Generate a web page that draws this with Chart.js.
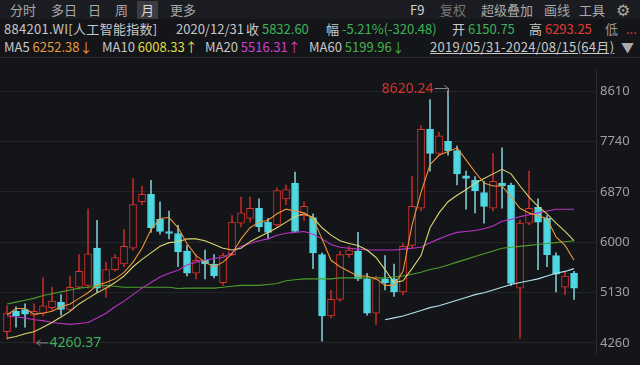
<!DOCTYPE html>
<html>
<head>
<meta charset="utf-8">
<script src="https://cdn.jsdelivr.net/npm/chart.js@4"></script>
<style>
  html, body { margin: 0; padding: 0; background: #141519; }
  #wrap { position: relative; width: 640px; height: 365px; overflow: hidden; background: #141519;
          font-family: "Noto Sans CJK SC", "Noto Sans", sans-serif; font-size: 13px; color: #c8c8c8; }
  .t { position: absolute; white-space: nowrap; line-height: 18px; }
  #bar1 { position: absolute; left: 0; top: 0; width: 640px; height: 19px; background: #1b1c21; }
  .btn { color: #a8a8a8; }
  .on { background: #3b3c42; color: #dcdcdc; padding: 0 4px; }
  .g { color: #3cb35a; }
  .r { color: #e23a34; }
  #sep { position: absolute; left: 0; top: 57px; width: 640px; height: 1px; background: #2a2b31; }
  canvas { position: absolute; left: 0; top: 58px; }
</style>
</head>
<body>
<div id="wrap">
  <div id="bar1"></div>
  <span class="t btn" style="left:10px;top:1px">分时</span>
  <span class="t btn" style="left:51px;top:1px">多日</span>
  <span class="t btn" style="left:88px;top:1px">日</span>
  <span class="t btn" style="left:115px;top:1px">周</span>
  <span class="t on" style="left:137px;top:1px">月</span>
  <span class="t btn" style="left:170px;top:1px">更多</span>
  <span class="t btn" style="left:410px;top:1px;color:#d0d0d0">F9</span>
  <span class="t btn" style="left:440px;top:1px;color:#777">复权</span>
  <span class="t btn" style="left:481px;top:1px">超级叠加</span>
  <span class="t btn" style="left:544px;top:1px">画线</span>
  <span class="t btn" style="left:579px;top:1px">工具</span>
  <span class="t btn" style="left:616px;top:0px;font-size:16px">⚙</span>

  <span class="t" style="left:4px;top:20px;letter-spacing:0.3px">884201.WI[人工智能指数]</span>
  <span class="t" style="left:176px;top:20px">2020/12/31</span>
  <span class="t" style="left:246px;top:20px">收 <span class="g">5832.60</span></span>
  <span class="t" style="left:326px;top:20px">幅 <span class="g">-5.21%(-320.48)</span></span>
  <span class="t" style="left:452px;top:20px">开 <span class="g">6150.75</span></span>
  <span class="t" style="left:529px;top:20px">高 <span class="r">6293.25</span></span>
  <span class="t" style="left:605px;top:20px;color:#999">低</span>
  <span class="t r" style="left:626px;top:20px">...</span>

  <span class="t" style="left:4px;top:38px">MA5 <span style="color:#e89a40">6252.38↓</span></span>
  <span class="t" style="left:102px;top:38px">MA10 <span style="color:#e0dc3a">6008.33↑</span></span>
  <span class="t" style="left:205px;top:38px">MA20 <span style="color:#d040d0">5516.31↑</span></span>
  <span class="t" style="left:309px;top:38px">MA60 <span style="color:#45b04a">5199.96↓</span></span>
  <span class="t" style="left:430px;top:38px;text-decoration:underline;letter-spacing:0.3px">2019/05/31-2024/08/15(64月)</span>
  <span class="t" style="left:621px;top:38px;color:#aaa">▼</span>
  <div id="sep"></div>
  <canvas id="kline" width="640" height="307"></canvas>
</div>
<script>
const months = [
  '2019/05','2019/06','2019/07','2019/08','2019/09','2019/10','2019/11','2019/12',
  '2020/01','2020/02','2020/03','2020/04','2020/05','2020/06','2020/07','2020/08',
  '2020/09','2020/10','2020/11','2020/12','2021/01','2021/02','2021/03','2021/04',
  '2021/05','2021/06','2021/07','2021/08','2021/09','2021/10','2021/11','2021/12',
  '2022/01','2022/02','2022/03','2022/04','2022/05','2022/06','2022/07','2022/08',
  '2022/09','2022/10','2022/11','2022/12','2023/01','2023/02','2023/03','2023/04',
  '2023/05','2023/06','2023/07','2023/08','2023/09','2023/10','2023/11','2023/12',
  '2024/01','2024/02','2024/03','2024/04','2024/05','2024/06','2024/07','2024/08'
];

const openP = [
  4453, 4806, 4838, 4742, 4774, 4870, 4966, 4838, 5223, 5255,
  5897, 5207, 5528, 5624, 5897, 6700, 6828, 6395, 6186, 6150.75,
  5849, 5464, 5688, 5624, 5303, 5785, 6330, 6411, 6587, 6347,
  6298, 6748, 7021, 6459, 6427, 5785, 4725, 5014, 5785, 5849,
  5367, 4774, 5367, 5367, 5143, 5945, 6587, 7952, 7534, 7743,
  7582, 7149, 7069, 6860, 6587, 7021, 6989, 5207, 6330, 6603,
  6411, 5769, 5223, 5464
];
const highP = [
  4902, 4886, 4934, 4934, 5384, 5223, 5095, 5416, 5785, 6571,
  6379, 5656, 5785, 6218, 7101, 6972, 7069, 6700, 6539, 6293.25,
  5945, 5785, 5865, 5785, 5817, 6459, 6780, 6780, 6748, 6411,
  6940, 6989, 7213, 6700, 6491, 5817, 5175, 5849, 5929, 6170,
  5464, 5416, 5769, 5624, 5977, 7133, 8016, 8465, 7903, 8620.24,
  7663, 7229, 7133, 7053, 7534, 7631, 7021, 6379, 7229, 6748,
  6459, 5817, 5496, 5496
];
const lowP = [
  4324, 4533, 4533, 4260.37, 4725, 4822, 4742, 4806, 5191, 5207,
  5143, 5046, 5496, 5576, 5865, 6651, 6170, 6138, 6058, 5576,
  5416, 5367, 5367, 5384, 5255, 5769, 6266, 6347, 6186, 6058,
  6266, 6651, 6170, 6379, 5544, 4292, 4693, 4982, 5737, 5335,
  4742, 4581, 5175, 5063, 5095, 5897, 6539, 7229, 7502, 7502,
  6989, 6571, 6507, 6330, 6539, 6587, 5255, 4340, 6298, 5528,
  5576, 5143, 5095, 5014
];
const closeP = [
  4774, 4725, 4758, 4806, 4902, 4982, 4838, 5223, 5496, 5801,
  5207, 5528, 5737, 5929, 6651, 6828, 6250, 6186, 6153.08, 5832.60,
  5464, 5688, 5624, 5416, 5769, 6347, 6507, 6587, 6266, 6170,
  6892, 6908, 6186, 6619, 5817, 4725, 5014, 5785, 5865, 5367,
  4774, 5367, 5303, 5143, 5929, 6619, 7952, 7534, 7839, 7582,
  7181, 7101, 6892, 6619, 7053, 6972, 5287, 6330, 6587, 6347,
  5785, 5448, 5416, 5207
];

const ma5 = [
  4742, 4854, 4854, 4758, 4774, 4806, 4886, 4934, 5030, 5127,
  5255, 5303, 5367, 5480, 5656, 5897, 6218, 6411, 6427, 6252.38,
  5977, 5769, 5656, 5576, 5656, 5801, 6058, 6250, 6347, 6379,
  6491, 6571, 6539, 6507, 6411, 6058, 5688, 5576, 5496, 5416,
  5416, 5367, 5255, 5255, 5496, 6298, 6860, 7342, 7502, 7566,
  7631, 7422, 7213, 7021, 6972, 6972, 6780, 6587, 6507, 6459,
  6411, 6090, 5945, 5688
];
const ma10 = [
  4340, 4372, 4420, 4453, 4533, 4613, 4709, 4806, 4934, 5030,
  5127, 5207, 5303, 5416, 5576, 5704, 5817, 5929, 5993, 6008.33,
  6058, 6058, 6026, 5961, 5897, 5865, 5897, 6010, 6090, 6170,
  6250, 6347, 6443, 6491, 6427, 6250, 6122, 6026, 5977, 5945,
  5865, 5737, 5528, 5303, 5335, 5544, 5769, 6250, 6507, 6700,
  6812, 6908, 7021, 7101, 7181, 7261, 7181, 6972, 6780, 6619,
  6491, 6330, 6186, 6026
];
const ma20 = [
  4725, 4709, 4693, 4661, 4645, 4613, 4597, 4581, 4597, 4613,
  4693, 4774, 4886, 4982, 5095, 5207, 5303, 5400, 5464, 5516.31,
  5608, 5656, 5688, 5721, 5737, 5817, 5929, 5977, 6026, 6058,
  6122, 6154, 6170, 6186, 6138, 6058, 5961, 5913, 5897, 5881,
  5865, 5865, 5865, 5865, 5881, 5897, 5913, 5993, 6058, 6122,
  6170, 6186, 6202, 6234, 6282, 6363, 6395, 6443, 6475, 6507,
  6539, 6571, 6571, 6571
];
const ma60 = [
  4934, 4966, 4998, 5030, 5079, 5111, 5143, 5175, 5207, 5223,
  5239, 5255, 5239, 5223, 5223, 5223, 5223, 5223, 5223, 5199.96,
  5207, 5207, 5207, 5207, 5223, 5239, 5255, 5255, 5255, 5271,
  5287, 5335, 5351, 5367, 5367, 5367, 5367, 5384, 5384, 5384,
  5384, 5384, 5384, 5400, 5416, 5448, 5480, 5528, 5560, 5608,
  5656, 5704, 5753, 5801, 5849, 5897, 5913, 5929, 5945, 5961,
  5977, 5993, 6009, 6026
];
const maLong = [
  null, null, null, null, null, null, null, null, null, null,
  null, null, null, null, null, null, null, null, null, null,
  null, null, null, null, null, null, null, null, null, null,
  null, null, null, null, null, null, null, null, null, null,
  null, null, 4661, 4693, 4725, 4774, 4822, 4870, 4902, 4950,
  4998, 5046, 5095, 5127, 5175, 5223, 5271, 5303, 5335, 5367,
  5416, 5464, 5496, 5544
];

const yTicks = [4260, 5130, 6000, 6870, 7740, 8610];

const BG = '#141519';
const UP = '#dc332e';
const DOWN = '#4fd8e2';
const rising = i => closeP[i] >= openP[i];

function lineSet(label, arr, color) {
  return {
    type: 'line', label, order: 1,
    data: arr.map((v, i) => ({ x: i, y: v })),
    borderColor: color, borderWidth: 1.1, pointRadius: 0, tension: 0, spanGaps: false
  };
}

const extremes = {
  id: 'extremes',
  afterDatasetsDraw(chart) {
    const { ctx, scales: { x, y } } = chart;
    const hi = highP.indexOf(Math.max(...highP));
    const lo = lowP.indexOf(Math.min(...lowP));
    ctx.save();
    ctx.font = '14px "Noto Sans", sans-serif';
    ctx.textBaseline = 'middle';
    ctx.strokeStyle = '#8a8a8a';
    ctx.lineWidth = 1;
    // high marker
    let px = Math.round(x.getPixelForValue(hi)) + 0.5, py = y.getPixelForValue(highP[hi]) - 2;
    ctx.beginPath();
    ctx.moveTo(px - 14, py); ctx.lineTo(px, py); ctx.lineTo(px, py + 8);
    ctx.moveTo(px - 4, py - 3); ctx.lineTo(px, py);
    ctx.stroke();
    ctx.fillStyle = '#d9332e';
    ctx.textAlign = 'right';
    ctx.fillText(highP[hi].toFixed(2), px - 15, py);
    // low marker
    px = Math.round(x.getPixelForValue(lo)) + 0.5; py = y.getPixelForValue(lowP[lo]);
    ctx.beginPath();
    ctx.moveTo(px + 2, py); ctx.lineTo(px + 14, py);
    ctx.moveTo(px + 2, py); ctx.lineTo(px + 6, py - 3);
    ctx.moveTo(px + 2, py); ctx.lineTo(px + 6, py + 3);
    ctx.stroke();
    ctx.fillStyle = '#3cb35a';
    ctx.textAlign = 'left';
    ctx.fillText(lowP[lo].toFixed(2), px + 15, py);
    ctx.restore();
  }
};

new Chart(document.getElementById('kline'), {
  type: 'bar',
  data: {
    datasets: [
      {
        label: 'wick', order: 3, grouped: false, barThickness: 1,
        data: months.map((m, i) => ({ x: i, y: [lowP[i], highP[i]] })),
        backgroundColor: c => rising(c.dataIndex) ? '#b92b27' : '#7cc4cc'
      },
      {
        label: 'body', order: 2, grouped: false, barThickness: 7, minBarLength: 1,
        data: months.map((m, i) => ({ x: i, y: [openP[i], closeP[i]] })),
        backgroundColor: c => rising(c.dataIndex) ? BG : DOWN,
        borderColor: c => rising(c.dataIndex) ? UP : DOWN,
        borderWidth: 1, borderSkipped: false
      },
      lineSet('MA5', ma5, '#e8953a'),
      lineSet('MA10', ma10, '#dcd46e'),
      lineSet('MA20', ma20, '#b834c4'),
      lineSet('MA60', ma60, '#4e9d2c'),
      lineSet('MA', maLong, '#b5e3ee')
    ]
  },
  options: {
    responsive: false,
    animation: false,
    events: [],
    layout: { padding: 0 },
    plugins: { legend: { display: false }, tooltip: { enabled: false } },
    scales: {
      x: {
        type: 'linear', min: -0.78, max: 65.44, offset: false,
        grid: { display: false }, ticks: { display: false }, border: { display: false }
      },
      y: {
        position: 'right', min: 4083, max: 8979,
        afterBuildTicks: s => { s.ticks = yTicks.map(v => ({ value: v })); },
        afterFit: s => { s.width = 44; },
        grid: { color: 'rgba(255,255,255,0.07)', drawTicks: false },
        border: { color: '#2a2b31' },
        ticks: { color: '#a0a0a0', padding: 4, font: { size: 13, family: '"Noto Sans", sans-serif' },
                 callback: v => String(v) }
      }
    }
  },
  plugins: [extremes]
});
</script>
</body>
</html>
